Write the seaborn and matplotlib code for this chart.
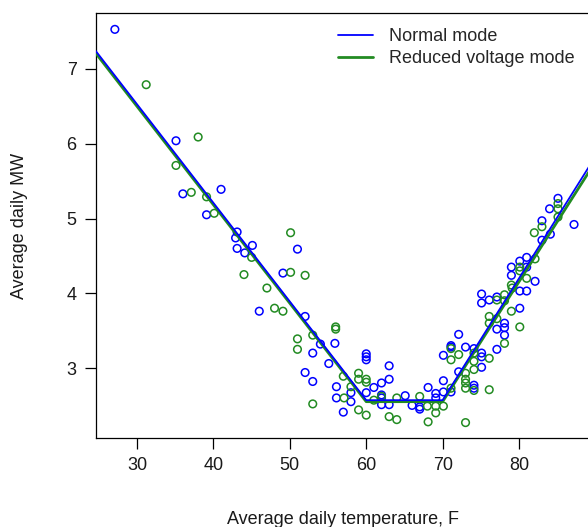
import numpy as np
import pandas as pd
import matplotlib
matplotlib.use("Agg")
import matplotlib.pyplot as plt
import seaborn as sns

# Daily observations: average temperature (F) and average load (MW)
normal_temp = [27.1, 35.1, 36.0, 39.1, 41.0, 43.1, 42.9, 45.1, 43.1, 44.1,
               51.0, 49.1, 46.0, 52.0, 53.0, 54.0, 55.1, 55.9, 52.0, 53.0,
               56.1, 60.0, 60.0, 60.0, 63.0, 63.0, 62.0, 61.0, 56.1, 58.0,
               58.0, 57.0, 60.0, 62.0, 62.0, 62.0, 63.0, 65.1, 66.0, 67.0,
               67.0, 68.1, 69.1, 69.1, 70.1, 70.1, 70.1, 71.1, 71.1, 71.1,
               72.1, 72.1, 73.0, 74.1, 74.1, 74.1, 75.1, 75.1, 75.1, 75.1,
               75.1, 76.1, 77.1, 80.1, 81.0, 80.1, 77.1, 78.1, 78.1, 78.1,
               77.1, 85.1, 84.0, 87.2, 83.0, 84.1, 83.0, 81.0, 80.1, 79.0,
               79.0, 81.0, 82.1]
normal_mw = [7.53, 6.04, 5.33, 5.05, 5.39, 4.82, 4.74, 4.64, 4.60, 4.54,
             4.59, 4.27, 3.76, 3.69, 3.20, 3.32, 3.06, 3.33, 2.94, 2.82,
             2.75, 3.19, 3.15, 3.11, 3.03, 2.85, 2.80, 2.74, 2.60, 2.67,
             2.55, 2.41, 2.67, 2.64, 2.60, 2.51, 2.51, 2.63, 2.50, 2.48,
             2.45, 2.74, 2.66, 2.60, 2.68, 2.83, 3.17, 3.30, 3.28, 2.68,
             3.45, 2.95, 3.28, 3.26, 2.77, 2.73, 3.20, 3.15, 3.01, 3.99,
             3.87, 3.91, 3.95, 4.03, 4.03, 3.80, 3.52, 3.60, 3.54, 3.44,
             3.25, 5.27, 5.13, 4.92, 4.97, 4.79, 4.71, 4.48, 4.43, 4.35,
             4.24, 4.35, 4.16]

reduced_temp = [31.2, 38.0, 35.1, 37.1, 39.1, 40.1, 45.0, 50.1, 44.0, 50.1,
                52.0, 47.0, 48.0, 49.1, 51.0, 51.0, 53.0, 56.0, 56.0, 53.0,
                57.0, 58.0, 59.0, 59.0, 60.0, 60.0, 57.1, 59.0, 60.0, 61.0,
                63.0, 64.0, 64.0, 67.0, 68.0, 68.1, 69.1, 69.1, 70.1, 71.1,
                71.1, 71.1, 72.1, 73.0, 73.0, 73.0, 73.0, 73.0, 74.1, 74.1,
                74.1, 74.1, 76.1, 76.1, 76.1, 76.1, 77.1, 77.1, 78.1, 78.1,
                79.1, 79.0, 80.1, 78.1, 85.1, 85.1, 85.1, 83.0, 82.0, 82.1,
                80.1, 80.1, 81.0, 79.0, 62.0]
reduced_mw = [6.79, 6.09, 5.71, 5.35, 5.29, 5.07, 4.48, 4.81, 4.25, 4.28,
              4.24, 4.07, 3.80, 3.76, 3.39, 3.25, 3.44, 3.55, 3.52, 2.52,
              2.89, 2.75, 2.93, 2.85, 2.85, 2.81, 2.60, 2.44, 2.37, 2.57,
              2.35, 2.31, 2.60, 2.62, 2.49, 2.28, 2.49, 2.40, 2.49, 3.11,
              3.26, 2.73, 3.18, 2.93, 2.85, 2.80, 2.73, 2.27, 3.20, 3.09,
              2.98, 2.70, 3.13, 2.71, 3.69, 3.60, 3.91, 3.66, 3.98, 3.90,
              4.07, 3.76, 3.55, 3.33, 5.20, 5.13, 5.02, 4.89, 4.81, 4.46,
              4.35, 4.30, 4.20, 4.11, 2.62]

# Segmented (piecewise linear) fits for each operating mode
fit_temp = [24.0, 60.0, 70.0, 90.0]
normal_fit = [7.32, 2.57, 2.57, 5.83]
reduced_fit = [7.29, 2.55, 2.55, 5.76]

x_ticks = [30, 40, 50, 60, 70, 80]
y_ticks = [3, 4, 5, 6, 7]

BLUE = "#0000FF"
GREEN = "#228B22"

sns.set_theme(style="white")
plt.rcParams["font.family"] = ["Liberation Sans", "DejaVu Sans"]

fig = plt.figure(figsize=(5.88, 5.27), dpi=100)
ax = fig.add_axes([96 / 588, 89 / 527, 494 / 588, 425 / 527])

normal_df = pd.DataFrame({"temp": normal_temp, "mw": normal_mw})
reduced_df = pd.DataFrame({"temp": reduced_temp, "mw": reduced_mw})
fit_df = pd.DataFrame({"temp": fit_temp, "normal": normal_fit,
                       "reduced": reduced_fit})

sns.scatterplot(data=normal_df, x="temp", y="mw", ax=ax, marker="o",
                facecolor="none", edgecolor=BLUE, linewidth=1.1, s=30,
                zorder=3)
sns.scatterplot(data=reduced_df, x="temp", y="mw", ax=ax, marker="o",
                facecolor="none", edgecolor=GREEN, linewidth=1.1, s=30,
                zorder=3)
sns.lineplot(data=fit_df, x="temp", y="reduced", ax=ax, color=GREEN,
             linewidth=2.0, label="Reduced voltage mode", zorder=4)
sns.lineplot(data=fit_df, x="temp", y="normal", ax=ax, color=BLUE,
             linewidth=1.3, label="Normal mode", zorder=5)

ax.set_xlim(24.63, 89.29)
ax.set_ylim(2.064, 7.749)
ax.set_xticks(x_ticks)
ax.set_yticks(y_ticks)
ax.tick_params(axis="both", direction="out", length=8, width=0.9,
               color="black", labelsize=13, labelcolor="#1a1a1a", pad=6,
               bottom=True, left=True)
for side in ["left", "bottom", "top", "right"]:
    ax.spines[side].set_color("black")
    ax.spines[side].set_linewidth(0.9)

ax.set_xlabel("Average daily temperature, F", fontsize=13, color="#1a1a1a",
              labelpad=26)
ax.set_ylabel("Average daily MW", fontsize=13, color="#1a1a1a", labelpad=28)

handles, labels = ax.get_legend_handles_labels()
order = [labels.index("Normal mode"), labels.index("Reduced voltage mode")]
ax.legend([handles[i] for i in order], [labels[i] for i in order],
          loc="upper left", bbox_to_anchor=(338 / 588, 1 - 28 / 527),
          bbox_transform=fig.transFigure, frameon=False, fontsize=13,
          borderpad=0, borderaxespad=0, handlelength=1.95,
          handletextpad=0.9, labelspacing=0.27)

fig.savefig("out.png", dpi=100)
